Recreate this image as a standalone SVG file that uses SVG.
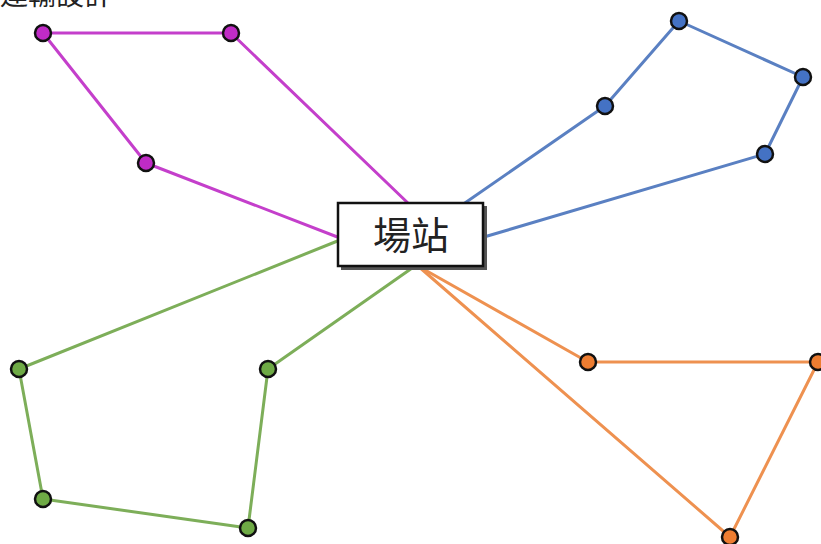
<svg xmlns="http://www.w3.org/2000/svg" width="821" height="544" viewBox="0 0 821 544">
<style>
.m{stroke:#C43FCB}.b{stroke:#5A80C2}.g{stroke:#7DAE59}.o{stroke:#EE9150}
line{stroke-width:3;stroke-linecap:round}
circle{stroke:#111;stroke-width:2.5}
.nm{fill:#C02BC6}.nb{fill:#4472C4}.ng{fill:#6EAA45}.no{fill:#ED7D31}
</style>
<rect width="821" height="544" fill="#fff"/>
<text x="0" y="5" font-family="'Noto Sans CJK TC','Noto Sans CJK SC',sans-serif" font-size="28" fill="#222">運輸設計</text>
<g id="connectors">
<line class="m" x1="43" y1="33" x2="231" y2="33"/>
<line class="m" x1="231" y1="33" x2="410" y2="205"/>
<line class="m" x1="43" y1="33" x2="146" y2="163"/>
<line class="m" x1="146" y1="163" x2="340" y2="238"/>
<line class="b" x1="462" y1="205" x2="605" y2="106"/>
<line class="b" x1="605" y1="106" x2="679" y2="21"/>
<line class="b" x1="679" y1="21" x2="803" y2="77"/>
<line class="b" x1="803" y1="77" x2="765" y2="154"/>
<line class="b" x1="765" y1="154" x2="484" y2="237"/>
<line class="g" x1="340" y1="240" x2="19" y2="369"/>
<line class="g" x1="19" y1="369" x2="43" y2="499"/>
<line class="g" x1="43" y1="499" x2="248" y2="528"/>
<line class="g" x1="248" y1="528" x2="268" y2="369"/>
<line class="g" x1="268" y1="369" x2="415" y2="266"/>
<line class="o" x1="418" y1="266" x2="588" y2="362"/>
<line class="o" x1="588" y1="362" x2="818" y2="362"/>
<line class="o" x1="818" y1="362" x2="730" y2="537"/>
<line class="o" x1="730" y1="537" x2="418" y2="266"/>
</g>
<g id="station">
<rect x="341" y="206" width="146" height="64" fill="#555"/>
<rect x="338" y="203" width="145" height="63" fill="#fff" stroke="#111" stroke-width="2.5"/>
<text x="411" y="249" text-anchor="middle" font-family="'Noto Sans CJK TC','Noto Sans CJK SC',sans-serif" font-size="38" fill="#222">場站</text>
</g>
<g id="nodes-magenta">
<circle class="nm" cx="43" cy="33" r="8"/>
<circle class="nm" cx="231" cy="33" r="8"/>
<circle class="nm" cx="146" cy="163" r="8"/>
</g>
<g id="nodes-blue">
<circle class="nb" cx="605" cy="106" r="8"/>
<circle class="nb" cx="679" cy="21" r="8"/>
<circle class="nb" cx="803" cy="77" r="8"/>
<circle class="nb" cx="765" cy="154" r="8"/>
</g>
<g id="nodes-green">
<circle class="ng" cx="19" cy="369" r="8"/>
<circle class="ng" cx="43" cy="499" r="8"/>
<circle class="ng" cx="248" cy="528" r="8"/>
<circle class="ng" cx="268" cy="369" r="8"/>
</g>
<g id="nodes-orange">
<circle class="no" cx="588" cy="362" r="8"/>
<circle class="no" cx="818" cy="362" r="8"/>
<circle class="no" cx="730" cy="537" r="8"/>
</g>
</svg>
